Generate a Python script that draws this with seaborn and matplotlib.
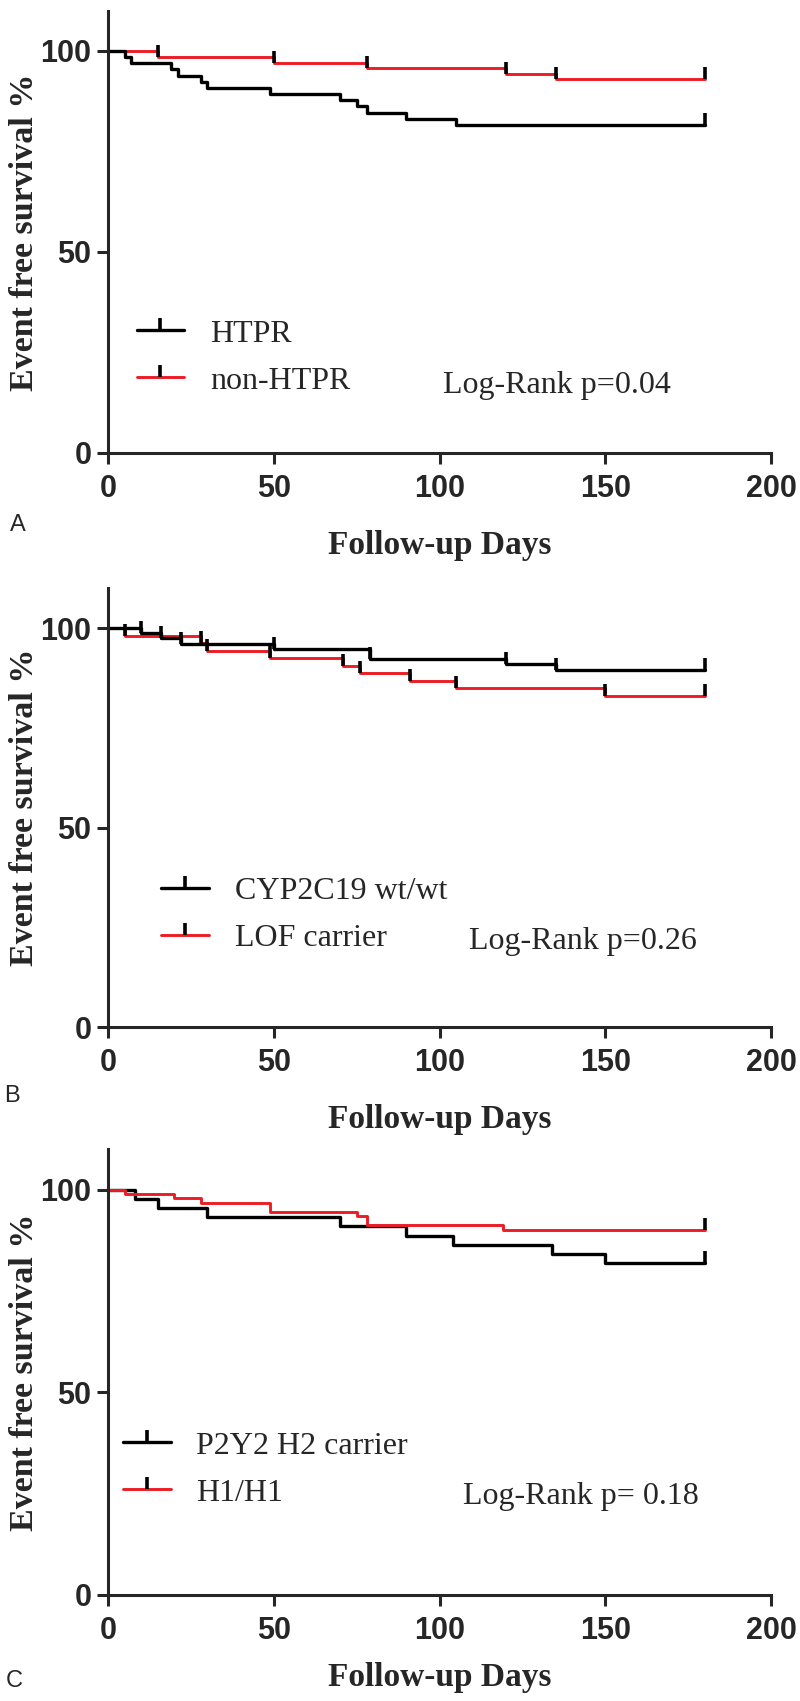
import numpy as np
import pandas as pd
import matplotlib
matplotlib.use('Agg')
import matplotlib.pyplot as plt
import seaborn as sns
from matplotlib.lines import Line2D
from matplotlib.markers import TICKUP

# Panel A - platelet reactivity
a_htpr_days = [0, 5, 7, 19, 21, 28, 30, 49, 70, 75, 78, 90, 105, 180]
a_htpr_surv = [100, 98.5, 96.9, 95.4, 93.8, 92.3, 90.8, 89.2, 87.7, 86.2, 84.6, 83.1, 81.5, 81.5]
a_non_days = [0, 15, 50, 78, 120, 135, 180]
a_non_surv = [100, 98.6, 97.1, 95.7, 94.3, 92.9, 92.9]
a_htpr_censor = [180]
a_non_censor = [15, 50, 78, 120, 135, 180]

# Panel B - CYP2C19 genotype
b_wt_days = [0, 10, 16, 22, 50, 79, 120, 135, 180]
b_wt_surv = [100, 98.7, 97.4, 96.1, 94.8, 92.2, 90.9, 89.6, 89.6]
b_lof_days = [0, 5, 28, 30, 49, 71, 76, 91, 105, 150, 180]
b_lof_surv = [100, 98.1, 96.2, 94.3, 92.5, 90.6, 88.7, 86.8, 84.9, 83.0, 83.0]
b_wt_censor = [10, 16, 22, 50, 79, 120, 135, 180]
b_lof_censor = [5, 28, 30, 49, 71, 76, 91, 105, 150, 180]

# Panel C - P2Y12 haplotype
c_h2_days = [0, 8, 15, 30, 70, 90, 104, 134, 150, 180]
c_h2_surv = [100, 97.7, 95.5, 93.2, 90.9, 88.6, 86.4, 84.1, 81.8, 81.8]
c_h1_days = [0, 5, 20, 28, 49, 75, 78, 119, 180]
c_h1_surv = [100, 98.9, 97.8, 96.7, 94.5, 93.4, 91.2, 90.0, 90.0]
c_h2_censor = [180]
c_h1_censor = [180]

panel_labels = ['A', 'B', 'C']
legend_a = ['HTPR', 'non-HTPR']
legend_b = ['CYP2C19 wt/wt', 'LOF carrier']
legend_c = ['P2Y2 H2 carrier', 'H1/H1']
pvals = ['Log-Rank p=0.04', 'Log-Rank p=0.26', 'Log-Rank p= 0.18']

RED = '#ed1c24'
serif = ['Liberation Serif', 'DejaVu Serif']
sans = ['Liberation Sans', 'DejaVu Sans']

sns.set_style('ticks')
plt.rcParams['font.family'] = sans


def level_at(days, surv, d):
    i = np.searchsorted(days, d, side='right') - 1
    return surv[i]


def km(ax, days, surv, censor, color, lw):
    df = pd.DataFrame({'day': days, 'surv': surv})
    sns.lineplot(data=df, x='day', y='surv', ax=ax, color=color, lw=lw,
                 drawstyle='steps-post', estimator=None, sort=False)
    cy = [level_at(days, surv, d) for d in censor]
    ax.plot(censor, cy, ls='none', marker=TICKUP, ms=9, mew=2.6, color='black',
            clip_on=False)


fig = plt.figure(figsize=(8, 17.01), dpi=100)
# axes boxes (left, bottom, width, height) in figure fractions
boxes = [(0.135, 0.7337, 0.8288, 0.2600),
         (0.135, 0.3962, 0.8288, 0.2580),
         (0.135, 0.0625, 0.8288, 0.2620)]
xlabelpads = [19, 19, 12]
leg_anchor = [(0.043, 0.216), (0.08, 0.255), (0.0225, 0.281)]
pval_xy = [(101, 16.9), (109, 21.5), (107, 24.2)]
letter_xy = [(0.022, 1 - 525 / 1701), (0.015, 1 - 1096 / 1701), (0.018, 1 - 1681 / 1701)]

series = [
    (a_htpr_days, a_htpr_surv, a_htpr_censor, a_non_days, a_non_surv, a_non_censor, legend_a),
    (b_wt_days, b_wt_surv, b_wt_censor, b_lof_days, b_lof_surv, b_lof_censor, legend_b),
    (c_h2_days, c_h2_surv, c_h2_censor, c_h1_days, c_h1_surv, c_h1_censor, legend_c),
]

for i, (kd, ks, kc, rd, rs, rc, labs) in enumerate(series):
    ax = fig.add_axes(boxes[i])
    if i == 2:
        km(ax, kd, ks, kc, 'black', 2.4)
        km(ax, rd, rs, rc, RED, 2.1)
    else:
        km(ax, rd, rs, rc, RED, 2.1)
        km(ax, kd, ks, kc, 'black', 2.4)

    ax.set_xlim(0, 200)
    ax.set_ylim(0, 110)
    ax.set_xticks([0, 50, 100, 150, 200])
    ax.set_yticks([0, 50, 100])
    sns.despine(ax=ax)
    for s in ['left', 'bottom']:
        ax.spines[s].set_linewidth(2.2)
    ax.tick_params(width=2.2, length=8, labelsize=22)
    ax.tick_params(axis='x', pad=7)
    ax.tick_params(axis='y', pad=4)
    for t in ax.get_xticklabels() + ax.get_yticklabels():
        t.set_fontweight('bold')
        t.set_family(sans)
    ax.set_xlabel('Follow-up Days', fontsize=24, fontweight='bold', family=serif,
                  labelpad=xlabelpads[i])
    ax.set_ylabel('Event free survival %', fontsize=24.5, fontweight='bold', family=serif, labelpad=0)

    handles = [Line2D([], [], color='black', lw=2.4, marker=TICKUP, ms=9, mew=2.6,
                      mec='black', markevery=[1]),
               Line2D([], [], color=RED, lw=2.1, marker=TICKUP, ms=9, mew=2.6,
                      mec='black', markevery=[1])]
    ax.legend(handles, labs, loc='center left', bbox_to_anchor=leg_anchor[i],
              frameon=False, prop={'family': serif, 'size': 23},
              handlelength=1.5, handletextpad=0.8, labelspacing=0.55,
              borderpad=0, borderaxespad=0)
    ax.text(pval_xy[i][0], pval_xy[i][1], pvals[i], fontsize=23, family=serif, va='center')
    fig.text(letter_xy[i][0], letter_xy[i][1], panel_labels[i], fontsize=17,
             family=sans, va='center', ha='center')

fig.savefig('out.png', dpi=100, facecolor='white')
